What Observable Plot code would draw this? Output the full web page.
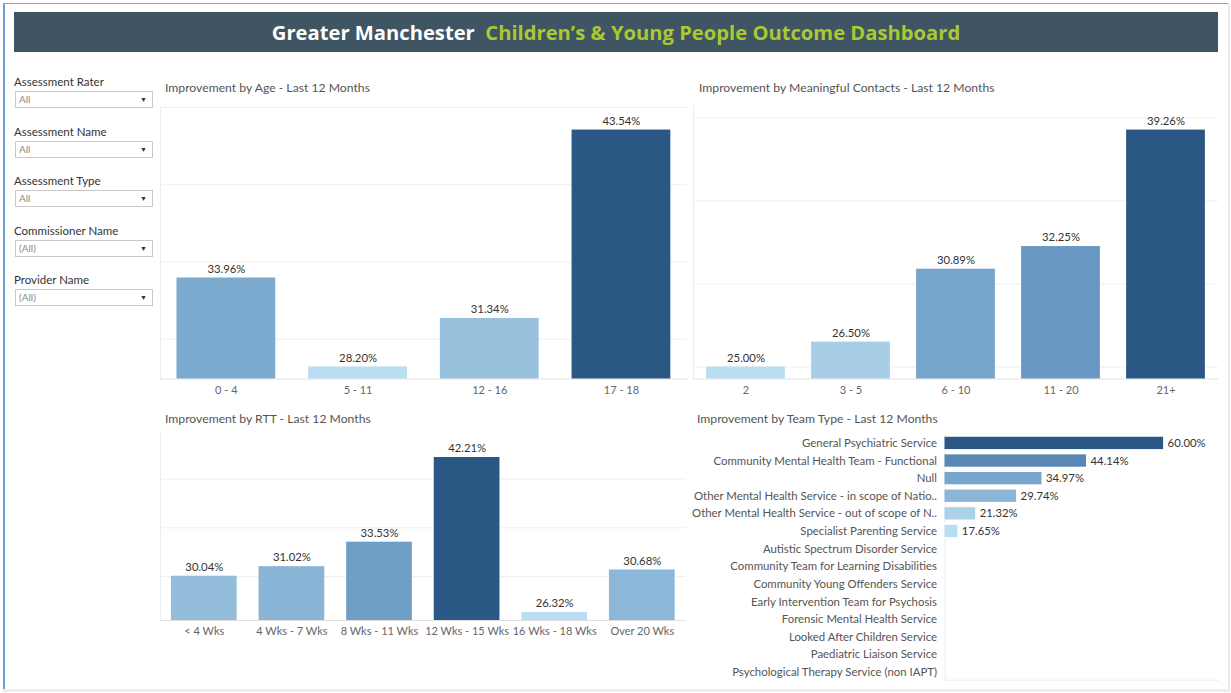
<!DOCTYPE html>
<html><head><meta charset="utf-8">
<script src="https://cdn.jsdelivr.net/npm/d3@7"></script>
<script src="https://cdn.jsdelivr.net/npm/@observablehq/plot@0.6"></script>
<style>
body{margin:0;width:1231px;height:693px;position:relative;background:#fff;font-family:Lato,"Open Sans",sans-serif;overflow:hidden}
.abs{position:absolute}
#frameL{position:absolute;left:3px;top:3px;width:2px;height:688px;background:#6f9bd6}
#frameT{position:absolute;left:3px;top:3px;width:1226px;height:1px;background:#7fa3d6}
#frameR{position:absolute;left:1228px;top:3px;width:2px;height:688px;background:#ebebeb}
#frameB{position:absolute;left:3px;top:689px;width:1227px;height:3px;background:#efefef}
#titlebar{position:absolute;left:14px;top:12px;width:1204px;height:40px;background:#3f5564;display:flex;align-items:center;justify-content:center;font-family:"Open Sans",Lato,sans-serif;font-weight:700;font-size:20.2px;white-space:pre}
#titlebar .w{color:#ffffff}
#titlebar .g{color:#a9c92e}
.flabel{position:absolute;left:14px;font-size:11.5px;color:#333;line-height:14px}
.fbox{position:absolute;left:15px;width:136px;height:15px;border:1px solid #c9c9c9;font-size:10px;color:#8a8a8a;line-height:15px;box-sizing:content-box}
.fbox span.t{position:absolute;left:3px;top:0}
.fbox span.a{position:absolute;right:5px;top:0;font-size:7px;color:#333}
.ctitle{position:absolute;font-size:12.2px;color:#555;line-height:14px;white-space:nowrap}
</style></head><body>
<div id="frameL"></div><div id="frameT"></div><div id="frameR"></div><div id="frameB"></div>
<div id="titlebar"><span class="w">Greater Manchester</span><span>  </span><span class="g">Children’s &amp; Young People Outcome Dashboard</span></div>
<div id="filters"></div>
<div class="ctitle" style="left:165px;top:81px">Improvement by Age - Last 12 Months</div>
<div class="ctitle" style="left:699px;top:81px">Improvement by Meaningful Contacts - Last 12 Months</div>
<div class="ctitle" style="left:165px;top:412px">Improvement by RTT - Last 12 Months</div>
<div class="ctitle" style="left:697px;top:412px">Improvement by Team Type - Last 12 Months</div>
<div id="c1" class="abs" style="left:150px;top:100px"></div>
<div id="c2" class="abs" style="left:680px;top:100px"></div>
<div id="c3" class="abs" style="left:150px;top:425px"></div>
<div id="c4" class="abs" style="left:690px;top:425px"></div>
<script>
// ---- data ----
const filterNames = ["Assessment Rater","Assessment Name","Assessment Type","Commissioner Name","Provider Name"];
const filterValues = ["All","All","All","(All)","(All)"];

const ageCats = ["0 - 4","5 - 11","12 - 16","17 - 18"];
const ageValues = [33.96, 28.20, 31.34, 43.54];

const contactCats = ["2","3 - 5","6 - 10","11 - 20","21+"];
const contactValues = [25.00, 26.50, 30.89, 32.25, 39.26];

const rttCats = ["< 4 Wks","4 Wks - 7 Wks","8 Wks - 11 Wks","12 Wks - 15 Wks","16 Wks - 18 Wks","Over 20 Wks"];
const rttValues = [30.04, 31.02, 33.53, 42.21, 26.32, 30.68];

const teamCats = ["General Psychiatric Service","Community Mental Health Team - Functional","Null",
  "Other Mental Health Service - in scope of Natio..","Other Mental Health Service - out of scope of N..",
  "Specialist Parenting Service","Autistic Spectrum Disorder Service","Community Team for Learning Disabilities",
  "Community Young Offenders Service","Early Intervention Team for Psychosis","Forensic Mental Health Service",
  "Looked After Children Service","Paediatric Liaison Service","Psychological Therapy Service (non IAPT)"];
const teamValues = [60.00, 44.14, 34.97, 29.74, 21.32, 17.65, null, null, null, null, null, null, null, null];

const blues = ["#b9ddf1","#6898c3","#2a5783"];

// ---- filters ----
const fl = document.getElementById("filters");
filterNames.forEach((n,i)=>{
  const top = 75 + i*49.5;
  fl.insertAdjacentHTML("beforeend",
    `<div class="flabel" style="top:${top}px">${n}</div>
     <div class="fbox" style="top:${top+16}px"><span class="t">${filterValues[i]}</span><span class="a">▼</span></div>`);
});

function colorScale(values){
  const v = values.filter(d=>d!=null);
  const mn = d3.min(v), mx = d3.max(v);
  return {type:"linear", domain:[mn,(mn+mx)/2,mx], range:blues};
}
const fmt = d => d.toFixed(2) + "%";
const baseStyle = {fontFamily:"Lato, 'Open Sans', sans-serif", fontSize:"11px", background:"transparent", overflow:"visible"};

function column(cats, values, o){
  const data = cats.map((c,i)=>({c, v: values[i]}));
  return Plot.plot({
    width:o.width, height:o.height,
    marginLeft:o.mL, marginRight:o.mR, marginTop:o.mT, marginBottom:o.mB,
    style: baseStyle,
    x:{domain:cats, paddingInner:0.25, paddingOuter:0.125, round:false, label:null},
    y:{domain:[o.yMin,o.yMax], axis:null},
    color: colorScale(values),
    marks:[
      Plot.frame({anchor:"left", stroke:"#ececec"}),
      Plot.ruleY(o.grid, {stroke:"#efefef"}),
      Plot.ruleY([o.yMin], {stroke:"#e2e2e2"}),
      Plot.barY(data, {x:"c", y1:o.yMin, y2:"v", fill:"v"}),
      Plot.text(data, {x:"c", y:"v", text:d=>fmt(d.v), dy:-9, fill:"#333", fontSize:11.3}),
      Plot.axisX({tickSize:0, tickPadding:7, fill:"#666", fontSize:11})
    ]
  });
}

document.getElementById("c1").append(column(ageCats, ageValues,
  {width:550, height:305, mL:10, mR:13.2, mT:7, mB:26.5, yMin:27.42, yMax:45, grid:[30,35,40,45]}));
document.getElementById("c2").append(column(contactCats, contactValues,
  {width:551, height:305, mL:13, mR:13, mT:5, mB:26.5, yMin:24.28, yMax:40.74, grid:[25,30,35,40]}));
document.getElementById("c3").append(column(rttCats, rttValues,
  {width:550, height:225, mL:10, mR:14.4, mT:8, mB:30, yMin:25.5, yMax:44.67, grid:[30,35,40]}));

// ---- team type (horizontal) ----
const teamData = teamCats.map((c,i)=>({c, v: teamValues[i]})).filter(d=>d.v!=null);
const teamMin = 15;
document.getElementById("c4").append(Plot.plot({
  width:541, height:265, marginLeft:254.5, marginRight:13, marginTop:10, marginBottom:10.3,
  style: baseStyle,
  y:{domain:teamCats, paddingInner:0.3, paddingOuter:0.1, round:false, label:null},
  x:{domain:[teamMin, 71.3], axis:null},
  color: colorScale(teamValues),
  marks:[
    Plot.frame({anchor:"left", stroke:"#ececec"}),
    Plot.frame({anchor:"bottom", stroke:"#ececec"}),
    Plot.barX(teamData, {y:"c", x1:teamMin, x2:"v", fill:"v"}),
    Plot.text(teamData, {y:"c", x:"v", text:d=>fmt(d.v), dx:4, textAnchor:"start", fill:"#333", fontSize:11.3}),
    Plot.axisY({tickSize:0, tickPadding:8, fill:"#555", fontSize:11.4})
  ]
}));
</script>
</body></html>
